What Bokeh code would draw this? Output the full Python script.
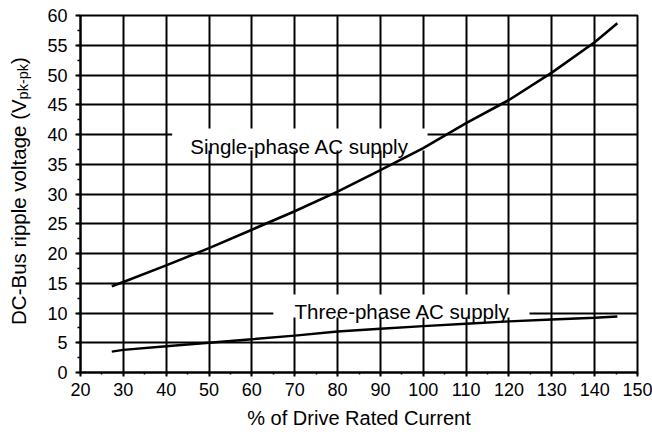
import math
from bokeh.plotting import figure
from bokeh.layouts import row
from bokeh.models import SingleIntervalTicker, BoxAnnotation, Label, Range1d
from bokeh.embed import file_html
from bokeh.resources import INLINE

# ---- data ----
x_single = [27.3, 30, 40, 50, 60, 70, 80, 90, 100, 110, 120, 130, 140, 145.3]
y_single = [14.5, 15.2, 18.0, 20.9, 24.0, 27.1, 30.4, 34.0, 37.7, 41.9, 45.8, 50.4, 55.5, 58.7]
x_three = [27.3, 30, 40, 50, 60, 70, 80, 90, 100, 110, 120, 130, 140, 145.3]
y_three = [3.5, 3.8, 4.4, 5.0, 5.6, 6.2, 6.9, 7.35, 7.8, 8.2, 8.6, 8.9, 9.2, 9.4]

x_title = "% of Drive Rated Current"
y_title_main = "DC-Bus ripple voltage (V"
y_title_sub = "pk-pk"
y_title_end = ")"
label_single = "Single-phase AC supply"
label_three = "Three-phase AC supply"

FONT = "Liberation Sans"

strip_w = 44
yr = Range1d(0, 60)

p = figure(width=652 - strip_w, height=434, x_range=(20, 150), y_range=yr,
           output_backend="svg", toolbar_location=None,
           min_border_left=80 - strip_w, min_border_right=15, min_border_top=15,
           min_border_bottom=62)
p.background_fill_color = "white"
p.border_fill_color = "white"
p.outline_line_color = "black"
p.outline_line_width = 2

p.xaxis.ticker = SingleIntervalTicker(interval=10, num_minor_ticks=2)
p.yaxis.ticker = SingleIntervalTicker(interval=5, num_minor_ticks=2)

for ax in (p.xaxis[0], p.yaxis[0]):
    ax.axis_line_color = "black"
    ax.axis_line_width = 2
    ax.major_tick_line_color = "black"
    ax.major_tick_line_width = 2
    ax.minor_tick_line_color = "black"
    ax.minor_tick_line_width = 1.5
    ax.major_tick_in = 0
    ax.minor_tick_in = 0
    ax.major_label_text_font = FONT
    ax.major_label_text_font_size = "18px"
    ax.major_label_text_color = "black"

p.xaxis.major_tick_out = 4
p.xaxis.minor_tick_out = 2
p.xaxis.major_label_standoff = 6
p.xaxis.axis_label = x_title
p.xaxis.axis_label_text_font = FONT
p.xaxis.axis_label_text_font_size = "20px"
p.xaxis.axis_label_text_font_style = "normal"
p.xaxis.axis_label_text_color = "black"
p.xaxis.axis_label_standoff = 8

p.yaxis.major_tick_out = 5
p.yaxis.minor_tick_out = 3
p.yaxis.major_label_standoff = 8

p.xgrid.grid_line_color = "black"
p.ygrid.grid_line_color = "black"
p.xgrid.grid_line_width = 2
p.ygrid.grid_line_width = 2

# white boxes behind the curve labels
box1 = BoxAnnotation(left=41.4, right=101.0, bottom=37.3, top=41.0,
                     fill_color="white", fill_alpha=1.0, line_alpha=0, level="underlay")
box2 = BoxAnnotation(left=65.0, right=124.8, bottom=9.24, top=13.1,
                     fill_color="white", fill_alpha=1.0, line_alpha=0, level="underlay")
p.add_layout(box1)
p.add_layout(box2)

p.line(x_single, y_single, line_color="black", line_width=2.6)
p.line(x_three, y_three, line_color="black", line_width=2.4)

p.add_layout(Label(x=71.15, y=38.0, text=label_single, text_align="center",
                   text_baseline="alphabetic", text_font=FONT, text_font_size="20.5px",
                   text_color="black"))
p.add_layout(Label(x=95.1, y=10.24, text=label_three, text_align="center",
                   text_baseline="alphabetic", text_font=FONT, text_font_size="20.5px",
                   text_color="black"))

# ---- narrow strip on the left carrying the rotated y-axis title ----
W = {"D": 722, "C": 722, "-": 333, "B": 667, "u": 556, "s": 500, " ": 278, "r": 333,
     "i": 222, "p": 556, "l": 222, "e": 556, "v": 500, "o": 556, "t": 278, "a": 556,
     "g": 556, "(": 333, "V": 667, "k": 500, ")": 333}


def tw(s, size):
    return sum(W.get(c, 556) for c in s) / 1000.0 * size


main_sz, sub_sz = 20.5, 14.5
w_main = tw(y_title_main, main_sz)
w_sub = tw(y_title_sub, sub_sz)
w_end = tw(y_title_end, main_sz)
total = w_main + w_sub + w_end

frame_h = 434 - 15 - 62
units_per_px = 60.0 / frame_h
y_mid = 30.5
y0 = y_mid - (total / 2.0) * units_per_px
y1 = y0 + w_main * units_per_px
y2 = y1 + w_sub * units_per_px
base_x = 18.0 / strip_w
sub_x = 22.0 / strip_w

s = figure(width=strip_w, height=434, x_range=(0, 1), y_range=yr,
           output_backend="svg", toolbar_location=None,
           min_border_left=0, min_border_right=0, min_border_top=15, min_border_bottom=62)
s.axis.visible = False
s.grid.visible = False
s.outline_line_color = None
s.background_fill_color = "white"
s.border_fill_color = "white"

common = dict(angle=math.pi / 2, text_align="left", text_baseline="alphabetic",
              text_font={"value": FONT}, text_color="black")
s.text(x=[base_x], y=[y0], text=[y_title_main], text_font_size=f"{main_sz}px", **common)
s.text(x=[sub_x], y=[y1], text=[y_title_sub], text_font_size=f"{sub_sz}px", **common)
s.text(x=[base_x], y=[y2], text=[y_title_end], text_font_size=f"{main_sz}px", **common)

layout = row(s, p, spacing=0)
open("out.html", "w").write(file_html(layout, INLINE))
